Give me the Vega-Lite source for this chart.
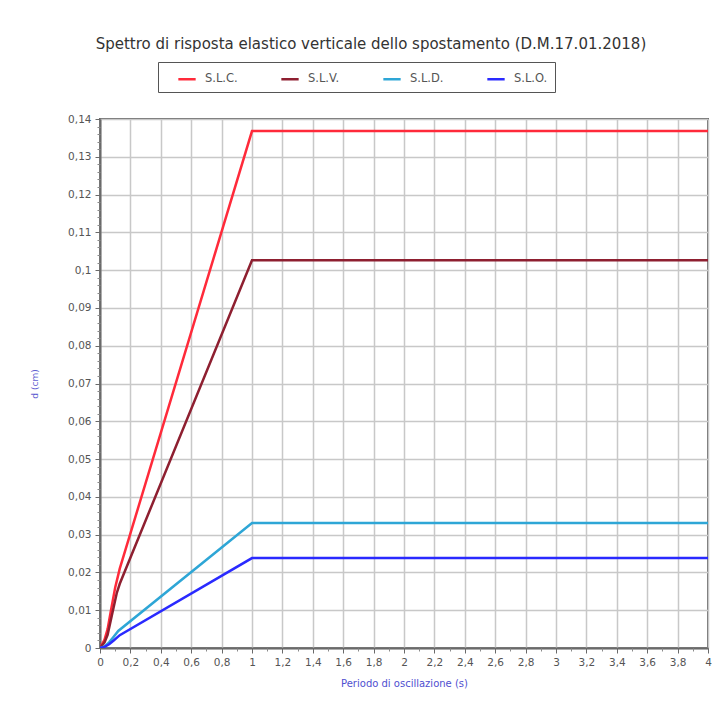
{
  "$schema": "https://vega.github.io/schema/vega-lite/v6.json",
  "width": 608,
  "height": 529,
  "autosize": {"type": "none"},
  "padding": {"left": 100, "top": 119, "right": 14, "bottom": 67},
  "background": "white",
  "title": {
    "text": "Spettro di risposta elastico verticale dello spostamento (D.M.17.01.2018)",
    "font": "DejaVu Sans",
    "fontSize": 15,
    "fontWeight": "normal",
    "color": "#333333",
    "anchor": "middle",
    "frame": "bounds",
    "offset": 10
  },
  "config": {
    "font": "DejaVu Sans",
    "view": {"stroke": "#6a6a6a", "strokeWidth": 2}
  },
  "data": {
    "values": [
      {"T": 0, "d": 0, "s": "S.L.C."},
      {"T": 0.03, "d": 0.0022, "s": "S.L.C."},
      {"T": 0.05, "d": 0.005, "s": "S.L.C."},
      {"T": 0.07, "d": 0.0095, "s": "S.L.C."},
      {"T": 0.1, "d": 0.016, "s": "S.L.C."},
      {"T": 0.13, "d": 0.021, "s": "S.L.C."},
      {"T": 1, "d": 0.1368, "s": "S.L.C."},
      {"T": 4, "d": 0.1368, "s": "S.L.C."},
      {"T": 0, "d": 0, "s": "S.L.V."},
      {"T": 0.03, "d": 0.0015, "s": "S.L.V."},
      {"T": 0.05, "d": 0.0035, "s": "S.L.V."},
      {"T": 0.08, "d": 0.009, "s": "S.L.V."},
      {"T": 0.11, "d": 0.0145, "s": "S.L.V."},
      {"T": 0.13, "d": 0.017, "s": "S.L.V."},
      {"T": 1, "d": 0.1026, "s": "S.L.V."},
      {"T": 4, "d": 0.1026, "s": "S.L.V."},
      {"T": 0, "d": 0, "s": "S.L.D."},
      {"T": 0.03, "d": 0.0004, "s": "S.L.D."},
      {"T": 0.06, "d": 0.0015, "s": "S.L.D."},
      {"T": 0.09, "d": 0.003, "s": "S.L.D."},
      {"T": 0.12, "d": 0.0045, "s": "S.L.D."},
      {"T": 1, "d": 0.0331, "s": "S.L.D."},
      {"T": 4, "d": 0.0331, "s": "S.L.D."},
      {"T": 0, "d": 0, "s": "S.L.O."},
      {"T": 0.03, "d": 0.0003, "s": "S.L.O."},
      {"T": 0.06, "d": 0.001, "s": "S.L.O."},
      {"T": 0.09, "d": 0.002, "s": "S.L.O."},
      {"T": 0.13, "d": 0.0034, "s": "S.L.O."},
      {"T": 1, "d": 0.0238, "s": "S.L.O."},
      {"T": 4, "d": 0.0238, "s": "S.L.O."}
    ]
  },
  "resolve": {"axis": {"x": "independent", "y": "independent"}},
  "layer": [
    {
      "mark": {"type": "line", "strokeWidth": 2.5, "clip": true},
      "encoding": {
        "x": {
          "field": "T",
          "type": "quantitative",
          "scale": {"domain": [0, 4], "nice": false, "zero": true},
          "axis": {
            "title": "Periodo di oscillazione (s)",
            "titleColor": "#5050d0",
            "titleFont": "DejaVu Sans",
            "titleFontSize": 10,
            "titleFontWeight": "normal",
            "titlePadding": 11,
            "values": [0, 0.2, 0.4, 0.6, 0.8, 1, 1.2, 1.4, 1.6, 1.8, 2, 2.2, 2.4, 2.6, 2.8, 3, 3.2, 3.4, 3.6, 3.8, 4],
            "labelExpr": "replace(format(datum.value, '~g'), '.', ',')",
            "labelColor": "#555555",
            "labelFontSize": 10.5,
            "labelFlush": false,
            "labelPadding": 4,
            "domainColor": "#6a6a6a",
            "domainWidth": 2,
            "tickColor": "#6a6a6a",
            "tickSize": 5,
            "grid": true,
            "gridColor": "#c8c8c8",
            "gridWidth": 1.5,
            "gridOpacity": 1
          }
        },
        "y": {
          "field": "d",
          "type": "quantitative",
          "scale": {"domain": [0, 0.14], "nice": false},
          "axis": {
            "title": "d (cm)",
            "titleColor": "#6060d0",
            "titleFont": "DejaVu Sans",
            "titleFontSize": 9,
            "titleFontWeight": "normal",
            "titlePadding": 28,
            "values": [0, 0.01, 0.02, 0.03, 0.04, 0.05, 0.06, 0.07, 0.08, 0.09, 0.1, 0.11, 0.12, 0.13, 0.14],
            "labelExpr": "replace(format(datum.value, '~g'), '.', ',')",
            "labelColor": "#555555",
            "labelFontSize": 10.5,
            "labelFlush": false,
            "labelPadding": 4,
            "domainColor": "#6a6a6a",
            "domainWidth": 2,
            "tickColor": "#6a6a6a",
            "tickSize": 5,
            "grid": true,
            "gridColor": "#c8c8c8",
            "gridWidth": 1.5,
            "gridOpacity": 1
          }
        },
        "color": {
          "field": "s",
          "type": "nominal",
          "scale": {
            "domain": ["S.L.C.", "S.L.V.", "S.L.D.", "S.L.O."],
            "range": ["#ff2a3a", "#8e1f30", "#2ea6d6", "#2a2aff"]
          },
          "legend": {
            "title": null,
            "orient": "none",
            "legendX": 58,
            "legendY": -57,
            "direction": "horizontal",
            "fillColor": "white",
            "strokeColor": "#555555",
            "padding": 7,
            "symbolType": "stroke",
            "symbolStrokeWidth": 2.5,
            "symbolSize": 300,
            "symbolOffset": 12,
            "labelOffset": 8,
            "labelFont": "DejaVu Sans",
            "labelFontSize": 11.5,
            "labelColor": "#555555",
            "columnPadding": 30
          }
        }
      }
    },
    {
      "mark": {"type": "line", "strokeOpacity": 0},
      "encoding": {
        "x": {
          "field": "T",
          "type": "quantitative",
          "axis": {
            "orient": "bottom",
            "values": [0.1, 0.3, 0.5, 0.7, 0.9, 1.1, 1.3, 1.5, 1.7, 1.9, 2.1, 2.3, 2.5, 2.7, 2.9, 3.1, 3.3, 3.5, 3.7, 3.9],
            "labels": false,
            "title": null,
            "grid": false,
            "domain": false,
            "tickColor": "#8a8a8a",
            "tickSize": 3
          }
        },
        "y": {
          "field": "d",
          "type": "quantitative",
          "axis": {
            "orient": "left",
            "values": [0.002, 0.004, 0.006, 0.008, 0.012, 0.014, 0.016, 0.018, 0.022, 0.024, 0.026, 0.028, 0.032, 0.034, 0.036, 0.038, 0.042, 0.044, 0.046, 0.048, 0.052, 0.054, 0.056, 0.058, 0.062, 0.064, 0.066, 0.068, 0.072, 0.074, 0.076, 0.078, 0.082, 0.084, 0.086, 0.088, 0.092, 0.094, 0.096, 0.098, 0.102, 0.104, 0.106, 0.108, 0.112, 0.114, 0.116, 0.118, 0.122, 0.124, 0.126, 0.128, 0.132, 0.134, 0.136, 0.138],
            "labels": false,
            "title": null,
            "grid": false,
            "domain": false,
            "tickColor": "#8a8a8a",
            "tickSize": 3
          }
        },
        "detail": {"field": "s", "type": "nominal"}
      }
    }
  ]
}
